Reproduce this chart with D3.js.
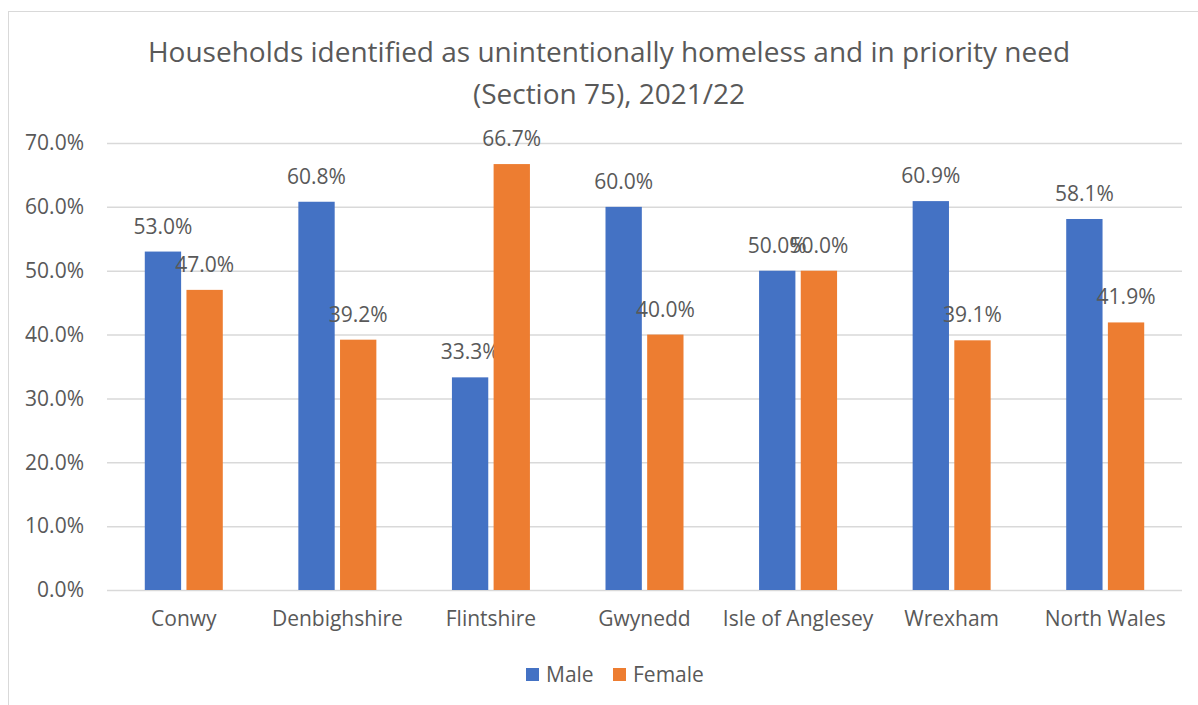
<!DOCTYPE html>
<html><head><meta charset="utf-8">
<script src="https://cdn.jsdelivr.net/npm/d3@7"></script>
<style>body{margin:0;background:#fff}svg{display:block}text{font-family:"Open Sans",sans-serif;fill:#595959}</style>
</head><body><svg id="c" width="1198" height="705"></svg>
<script>
const categories = ["Conwy","Denbighshire","Flintshire","Gwynedd","Isle of Anglesey","Wrexham","North Wales"];
const male = [53.0,60.8,33.3,60.0,50.0,60.9,58.1];
const female = [47.0,39.2,66.7,40.0,50.0,39.1,41.9];
const seriesNames = ["Male","Female"];
const yTicks = [0,10,20,30,40,50,60,70];
const titleLines = ["Households identified as unintentionally homeless and in priority need","(Section 75), 2021/22"];
const colors = ["#4472C4","#ED7D31"];
const FF = "'Open Sans'";
const FS = 21;

const svg = d3.select("#c");
svg.append("rect").attr("x",8.5).attr("y",11.5).attr("width",1198).attr("height",720)
  .attr("fill","none").attr("stroke","#D9D9D9");
const m = {l:107,r:1182,t:143,b:590};
const x = d3.scaleBand().domain(categories).range([m.l,m.r]);
const y = d3.scaleLinear().domain([0,70]).range([m.b,m.t]);
const bw = 34, gap = 10;
const xs = d3.scaleBand().domain(seriesNames).range([0,2*bw+gap]).paddingInner(gap/(2*bw+gap));

svg.append("g").selectAll("line").data(yTicks).join("line")
  .attr("x1",m.l).attr("x2",m.r).attr("y1",d=>y(d)+0.5).attr("y2",d=>y(d)+0.5)
  .attr("stroke","#D9D9D9").attr("stroke-width",1.5);

const yAxis = d3.axisLeft(y).tickValues(yTicks).tickFormat(d=>d.toFixed(1)+"%").tickSize(0).tickPadding(23);
const ga = svg.append("g").attr("transform",`translate(${m.l},0)`).call(yAxis);
ga.select(".domain").remove();
ga.selectAll("text").attr("font-size",FS).style("font-family",FF).attr("fill","#595959");

const xAxis = d3.axisBottom(x).tickSize(0).tickPadding(21);
const gx = svg.append("g").attr("transform",`translate(0,${m.b})`).call(xAxis);
gx.select(".domain").remove();
gx.selectAll("text").attr("font-size",FS).style("font-family",FF).attr("fill","#595959");

const data = [male,female];
data.forEach((vals,si)=>{
  const g = svg.append("g");
  const off = d=>x(d)+x.bandwidth()/2-(2*bw+gap)/2+xs(seriesNames[si]);
  g.selectAll("rect").data(categories).join("rect")
    .attr("x",(d)=>off(d)).attr("width",xs.bandwidth())
    .attr("y",(d,i)=>y(vals[i])).attr("height",(d,i)=>y(0)-y(vals[i]))
    .attr("fill",colors[si]);
  g.selectAll("text").data(categories).join("text")
    .attr("x",d=>off(d)+xs.bandwidth()/2).attr("y",(d,i)=>y(vals[i])-18)
    .attr("text-anchor","middle").attr("font-size",FS).text((d,i)=>vals[i].toFixed(1)+"%");
});

svg.append("g").selectAll("text").data(titleLines).join("text")
  .attr("x",609).attr("y",(d,i)=>62+i*42).attr("text-anchor","middle")
  .attr("font-size",28).text(d=>d);

const lg = svg.append("g");
const legX = [526,613];
seriesNames.forEach((s,i)=>{
  lg.append("rect").attr("x",legX[i]).attr("y",668).attr("width",13).attr("height",13).attr("fill",colors[i]);
  lg.append("text").attr("x",legX[i]+20).attr("y",682).attr("font-size",FS).text(s);
});
</script></body></html>
